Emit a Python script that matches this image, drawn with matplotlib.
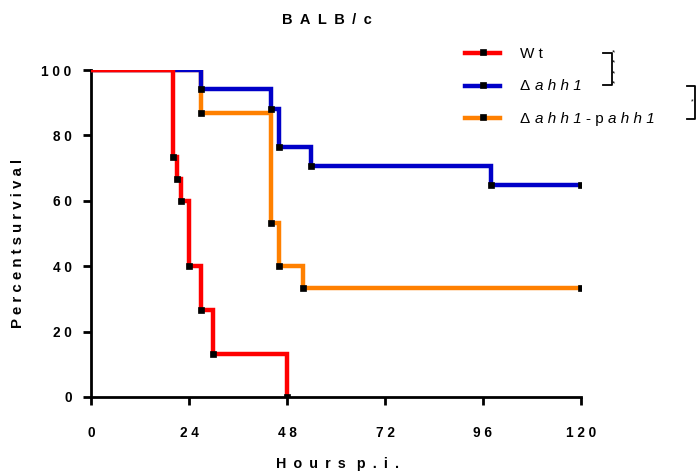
import matplotlib
matplotlib.use("Agg")
import matplotlib.pyplot as plt
from matplotlib.lines import Line2D

# ---- data (Kaplan-Meier step curves) ----
wt_t = [0, 20, 21, 22, 24, 27, 30, 48]
wt_s = [100, 73.3, 66.7, 60.0, 40.0, 26.7, 13.3, 0.0]

ahh_t = [0, 27, 44, 46, 54, 98, 120]
ahh_s = [100, 94.1, 88.2, 76.5, 70.6, 64.7, 64.7]

comp_t = [0, 27, 44, 46, 52, 120]
comp_s = [100, 86.7, 53.3, 40.0, 33.3, 33.3]

x_ticks = [0, 24, 48, 72, 96, 120]
y_ticks = [0, 20, 40, 60, 80, 100]

# legend labels as (text, italic) runs
legend_runs = [
    [("Wt", False)],
    [("\u0394", False), ("ahh1", True)],
    [("\u0394", False), ("ahh1", True), ("-p", False), ("ahh1", True)],
]

def spaced(s, sep=" "):
    return sep.join(list(s))

plt.rcParams['font.family'] = ['Liberation Sans', 'DejaVu Sans']

W, H = 696, 474
fig = plt.figure(figsize=(6.96, 4.74), dpi=100)
ax = fig.add_axes([91/W, 1-397/H, (581-91)/W, (397-70)/H])

red = '#FF0000'
blue = '#0000C8'
orange = '#FF8000'
colors = [red, blue, orange]

MK = dict(marker='s', ms=3.8, mfc='black', mec='black', mew=0.5)

def km(t, s, color, z):
    ax.step(t, s, where='post', color=color, lw=3.2, zorder=z, solid_joinstyle='miter')
    ax.plot(t[1:], s[1:], ls='none', zorder=z+0.5, **MK)

km(comp_t, comp_s, orange, 3)
km(ahh_t, ahh_s, blue, 4)
km(wt_t, wt_s, red, 5)

ax.set_xlim(0, 120)
ax.set_ylim(0, 100)
for side in ['top', 'right']:
    ax.spines[side].set_visible(False)
for side in ['left', 'bottom']:
    ax.spines[side].set_linewidth(2)
ax.set_xticks(x_ticks)
ax.set_yticks(y_ticks)
ax.set_xticklabels([spaced(str(v)) for v in x_ticks], fontweight='bold', fontsize=9.8)
ax.set_yticklabels([spaced(str(v)) for v in y_ticks], fontweight='bold', fontsize=9.8)
ax.tick_params(axis='x', direction='out', length=6, width=2, pad=15)
ax.tick_params(axis='y', direction='out', length=6, width=2, pad=8)
for sp in ax.spines.values():
    sp.set_clip_on(False)

fig.text(327/W, 1-20/H, spaced("BALB/c", "\u2002"), ha='center', va='center', fontsize=10.5, fontweight='bold')
fig.text(338/W, 1-464/H, spaced("Hours", "\u2002") + "\u2002 " + spaced("p.i.", "\u2002"), ha='center', va='center', fontsize=10.3, fontweight='bold')
fig.text(18/W, 1-243/H, spaced("Percent") + " " + spaced("survival"), ha='center', va='center', rotation=90, fontsize=10.8, fontweight='bold')

# manual legend
renderer = fig.canvas.get_renderer()
row_y = [53, 86, 118]
for i, (c, runs) in enumerate(zip(colors, legend_runs)):
    y = 1 - row_y[i]/H
    fig.add_artist(Line2D([465/W, 500/W], [y, y], color=c, lw=3.2, transform=fig.transFigure))
    fig.add_artist(Line2D([483/W], [y + 1.5/H], transform=fig.transFigure, ls='none', **MK))
    x = 520
    for j, (txt, it) in enumerate(runs):
        t = fig.text(x/W, y - 4.5/H, spaced(txt), ha='left', va='baseline', fontsize=11,
                     fontstyle='italic' if it else 'normal')
        bb = t.get_window_extent(renderer)
        x = bb.x1 + 4.5

# significance brackets
def bracket(x0, x1, y0, y1):
    xs = [x0/W, x1/W, x1/W, x0/W]
    ys = [1-y0/H, 1-y0/H, 1-y1/H, 1-y1/H]
    fig.add_artist(Line2D(xs, ys, color='black', lw=1.3, transform=fig.transFigure))

bracket(603, 612, 53, 85)
for yy in [53, 63, 74, 84]:
    fig.text(614/W, 1-yy/H, "*", fontsize=6, ha='center', va='center')
bracket(687, 695, 86, 119)
fig.text(692/W, 1-102/H, "*", fontsize=5, ha='center', va='center')

fig.savefig("out.png", dpi=100)
